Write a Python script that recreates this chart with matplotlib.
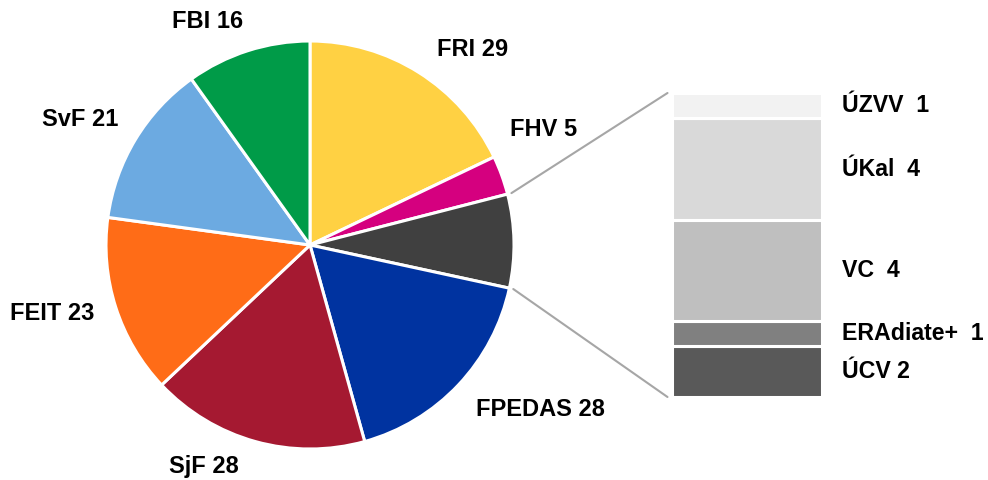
import numpy as np
import matplotlib.pyplot as plt
from matplotlib.patches import ConnectionPatch

plt.rcParams['font.family'] = ['Liberation Sans', 'DejaVu Sans']

# main pie (clockwise from top), "other" collects the small units
faculties = ["FRI", "FHV", "other", "FPEDAS", "SjF", "FEIT", "SvF", "FBI"]
counts = [29, 5, 12, 28, 28, 23, 21, 16]
pie_colors = ["#ffd143", "#d5007f", "#404040", "#0033a0",
              "#a51931", "#ff6c17", "#6caae1", "#009b48"]

# breakdown of "other", bottom to top
units = ["ÚCV 2", "ERAdiate+  1", "VC  4", "ÚKal  4", "ÚZVV  1"]
unit_counts = [2, 1, 4, 4, 1]
unit_colors = ["#595959", "#808080", "#bfbfbf", "#d9d9d9", "#f2f2f2"]

W, H = 988, 480
fig = plt.figure(figsize=(W / 100, H / 100), dpi=100)

# pie axes in pixel units (y up)
ax = fig.add_axes([0, 0, 1, 1])
cx, cy, r = 310, H - 245, 204
wedges, _ = ax.pie(counts, colors=pie_colors, startangle=90, counterclock=False,
                   center=(cx, cy), radius=r, frame=True,
                   wedgeprops=dict(edgecolor="white", linewidth=2.2))
ax.set_xlim(0, W)
ax.set_ylim(0, H)
ax.axis("off")

# labels (pixel positions, top-origin)
label_pos = {
    "FRI": (473, 49), "FHV": (544, 130), "FPEDAS": (540, 410),
    "SjF": (204, 466), "FEIT": (52, 313), "SvF": (80, 120), "FBI": (208, 22),
}
for name, val in zip(faculties, counts):
    if name not in label_pos:
        continue
    px, py = label_pos[name]
    ax.text(px, H - py, "%s %d" % (name, val), ha="center", va="center",
            fontsize=17, fontweight="bold", color="black")

# stacked bar for "other"
bx = fig.add_axes([672 / W, (H - 397) / H, 150 / W, 304 / H])
bottom = 0
for name, val, col in zip(units, unit_counts, unit_colors):
    bx.bar(0, val, width=1, bottom=bottom, color=col, edgecolor="white",
           linewidth=2.2, align="edge")
    bx.text(1.13, bottom + val / 2, name, ha="left", va="center",
            fontsize=16.7, fontweight="bold", color="black")
    bottom += val
bx.set_xlim(0, 1)
bx.set_ylim(0, sum(unit_counts))
bx.axis("off")

# connector lines from the "other" wedge to the bar
w = wedges[2]
for ang, ybar in [(w.theta2, sum(unit_counts)), (w.theta1, 0)]:
    x0 = cx + (r + 4) * np.cos(np.radians(ang))
    y0 = cy + (r + 4) * np.sin(np.radians(ang))
    con = ConnectionPatch(xyA=(x0, y0), coordsA=ax.transData,
                          xyB=(-0.03, ybar), coordsB=bx.transData,
                          color="#a6a6a6", linewidth=1.5)
    fig.add_artist(con)

fig.savefig("out.png", dpi=100)
